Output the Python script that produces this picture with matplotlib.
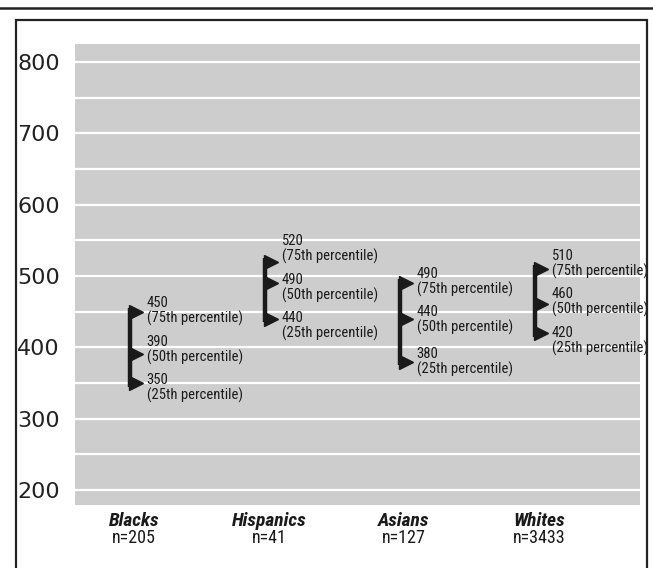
import matplotlib
matplotlib.use("Agg")
import matplotlib.pyplot as plt
from matplotlib.transforms import offset_copy
from matplotlib.patches import Rectangle
from matplotlib.lines import Line2D

groups = ["Blacks", "Hispanics", "Asians", "Whites"]
counts = ["n=205", "n=41", "n=127", "n=3433"]
p25 = [350, 440, 380, 420]
p50 = [390, 490, 440, 460]
p75 = [450, 520, 490, 510]
pct_names = ["(25th percentile)", "(50th percentile)", "(75th percentile)"]
yticks = [200, 300, 400, 500, 600, 700, 800]

narrow = ["Liberation Sans Narrow", "Roboto Condensed", "DejaVu Sans"]


def spread(vals, gap):
    # push label centres apart so the two-line labels don't collide
    ys = list(vals)
    for _ in range(50):
        for k in range(len(ys) - 1):
            d = ys[k + 1] - ys[k]
            if d < gap:
                m = (ys[k] + ys[k + 1]) / 2
                ys[k] = m - gap / 2
                ys[k + 1] = m + gap / 2
    return ys


fig = plt.figure(figsize=(6.53, 5.68), dpi=100)
ax = fig.add_axes([75 / 653, 63 / 568, 565 / 653, 461 / 568])
ax.set_facecolor("#cdcdcd")
ax.set_xlim(-0.407, 3.778)
ax.set_ylim(179, 825)

for y in range(200, 826, 50):
    ax.axhline(y, color="white", lw=1.6, zorder=1)

for s in ax.spines.values():
    s.set_visible(False)
ax.set_xticks([])
ax.set_yticks(yticks)
ax.tick_params(axis="y", length=0, pad=11, labelsize=16, labelcolor="#222222")

tri = offset_copy(ax.transData, fig=fig, x=4.5, y=0, units="points")
txt = offset_copy(ax.transData, fig=fig, x=12, y=0, units="points")

for i, g in enumerate(groups):
    vals = [p25[i], p50[i], p75[i]]
    ax.plot([i, i], [p25[i] - 5, p75[i] + 5], color="#1a1a1a", lw=3.2,
            solid_capstyle="butt", zorder=3)
    ax.plot([i] * 3, vals, ">", ms=10, color="#1a1a1a", transform=tri, zorder=3,
            clip_on=False)
    label_y = spread(vals, 54)
    for v, ly, name in zip(vals, label_y, pct_names):
        ax.text(i, ly, f"{v}\n{name}", transform=txt, ha="left", va="center",
                fontsize=10.5, family=narrow, stretch="condensed",
                linespacing=1.05, color="#1a1a1a", zorder=4)
    ax.text(i + 0.03, 156, g, ha="center", va="center", fontsize=14,
            fontweight="bold", style="italic", family=narrow, stretch="condensed",
            color="#1a1a1a", clip_on=False)
    ax.text(i + 0.03, 133, counts[i], ha="center", va="center", fontsize=13,
            family=narrow, stretch="condensed", color="#1a1a1a", clip_on=False)

# frame around the figure
fig.add_artist(Line2D([0, 1], [1 - 8 / 568] * 2, color="#222222", lw=1.8))
fig.add_artist(Rectangle((16 / 653, -0.05), (647 - 16) / 653, (568 - 20) / 568 + 0.05,
                         fill=False, edgecolor="#222222", lw=1.6))

fig.savefig("out.png", dpi=100)
